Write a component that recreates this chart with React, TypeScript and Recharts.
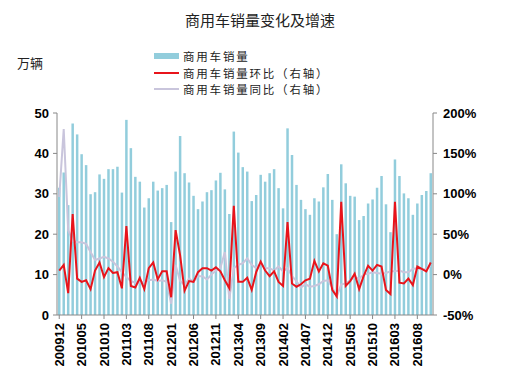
import React from "react";
import {
  ComposedChart,
  Bar,
  Line,
  XAxis,
  YAxis,
} from "recharts";

// months 200912 .. 201611
const months: string[] = [];
for (let i = 0; i < 84; i++) {
  const y = 2009 + Math.floor((11 + i) / 12);
  const m = ((11 + i) % 12) + 1;
  months.push(`${y}${m < 10 ? "0" + m : m}`);
}

// 商用车销量 (万辆)
const sales = [
  31.5, 35.3, 27.2, 47.4, 44.7, 39.8, 37.1, 29.9, 30.4, 34.8, 33.7, 36.1,
  36.1, 36.7, 30.3, 48.3, 41.3, 34.2, 33.0, 26.6, 28.9, 33.0, 30.8, 31.4,
  32.2, 23.0, 35.5, 44.3, 35.1, 32.8, 29.5, 26.2, 28.1, 30.4, 30.9, 33.3,
  35.2, 31.1, 25.0, 45.4, 40.2, 36.6, 35.5, 28.2, 29.7, 34.7, 33.0, 35.1,
  36.1, 31.4, 26.4, 46.2, 39.6, 32.2, 28.5, 26.2, 24.8, 28.9, 28.1, 31.6,
  34.9, 28.5, 20.0, 37.3, 32.6, 29.5, 29.3, 23.5, 24.5, 27.6, 28.6, 31.5,
  34.4, 27.4, 20.5, 38.5, 34.4, 30.1, 28.9, 24.8, 27.6, 29.7, 30.7, 35.1,
];

// 环比 (%)
const mom = [
  5, 12, -23, 75, -5, -9, -7, -18, 5, 15, -3, 8,
  2, 3, -17, 60, -14, -16, -4, -18, 8, 15, -6, 4,
  4, -28, 55, 24, -20, -8, -9, 3, 8, 8, 5, 9,
  4, -7, -17, 85, -9, -9, -4, -19, 3, 16, 5, -2,
  4, -9, -14, 65, -11, -15, -12, -7, -5, 17, 4, 14,
  11, -19, -27, 90, -14, -8, 1, -18, -2, 11, 5, 12,
  10, -19, -24, 90, -10, -11, -5, -13, 10, 7, 4, 15,
];

// 同比 (%)
const yoy = [
  96, 180, 55, 42, 40, 40, 38, 28, 18, 20, 22, 20,
  16, 10, 3, -3, -8, -10, -10, -9, -7, -6, -8, -7,
  -9, -36, 12, -8, -13, -5, -9, -2, -2, -6, 0, 5,
  8, 28, -30, 8, 12, 14, 20, 12, 8, 14, 8, 8,
  5, 10, 4, 8, -2, -8, -16, -12, -15, -14, -12, -8,
  -7, -16, -27, -12, -11, -7, -3, -5, 0, 1, 3, 2,
  1, 2, 4, 4, 5, 3, 3, 7, 8, 6, 7, 11,
];

const leftTicks = [0, 5, 10, 15, 20, 25, 30, 35, 40, 45, 50];
const rightTicks = [-50, 0, 50, 100, 150, 200];

const legendItems = [
  { name: "商用车销量", kind: "bar", color: "#92CDDC" },
  { name: "商用车销量环比（右轴）", kind: "line", color: "#E8141B" },
  { name: "商用车销量同比（右轴）", kind: "line", color: "#C9C5DC" },
];

const data = months.map((month, i) => ({
  month,
  sales: sales[i],
  mom: mom[i],
  yoy: yoy[i],
}));

const tickFont = {
  fontFamily: "'Liberation Sans', Arial, sans-serif",
  fontWeight: 700,
  fontSize: 13,
  fill: "#000",
};
const cjk = "'Noto Sans CJK SC', sans-serif";

const XTick = (props: any) => {
  const { x, y, payload } = props;
  return (
    <text
      x={x}
      y={y}
      transform={`rotate(-90, ${x}, ${y})`}
      textAnchor="end"
      dominantBaseline="central"
      {...tickFont}
    >
      {payload.value}
    </text>
  );
};

export default function App() {
  return (
    <div
      style={{
        position: "absolute",
        left: 0,
        top: 0,
        width: 520,
        height: 386,
        background: "#fff",
      }}
    >
      <div
        style={{
          position: "absolute",
          top: 10,
          left: 0,
          width: 520,
          textAlign: "center",
          fontFamily: cjk,
          fontSize: 15,
          lineHeight: "20px",
          color: "#222",
        }}
      >
        商用车销量变化及增速
      </div>
      <div
        style={{
          position: "absolute",
          top: 54,
          left: 17,
          fontFamily: cjk,
          fontSize: 13,
          lineHeight: "17px",
          color: "#222",
        }}
      >
        万辆
      </div>
      {legendItems.map((it, i) => (
        <div
          key={it.name}
          style={{
            position: "absolute",
            top: 48 + i * 16.7,
            left: 154,
            height: 16,
            display: "flex",
            alignItems: "center",
            fontFamily: cjk,
            fontSize: 11.5,
            letterSpacing: 1.8,
            lineHeight: "16px",
            color: "#222",
          }}
        >
          <span
            style={{
              display: "inline-block",
              width: 25,
              height: it.kind === "bar" ? 6 : 2,
              background: it.color,
              marginRight: 4,
            }}
          />
          <span>{it.name}</span>
        </div>
      ))}
      <ComposedChart
        width={520}
        height={386}
        data={data}
        margin={{ top: 113, right: 27, left: 27, bottom: 21 }}
        barCategoryGap={0}
      >
        <XAxis
          dataKey="month"
          interval={4}
          height={50}
          tick={<XTick />}
          tickSize={4}
          tickMargin={4}
          stroke="#888"
        />
        <YAxis
          yAxisId="left"
          domain={[0, 50]}
          ticks={leftTicks}
          width={30}
          tick={tickFont}
          tickSize={4}
          tickMargin={4}
          stroke="#888"
          allowDataOverflow
        />
        <YAxis
          yAxisId="right"
          orientation="right"
          domain={[-50, 200]}
          ticks={rightTicks}
          tickFormatter={(v: number) => `${v}%`}
          width={60}
          tick={{ ...tickFont, textAnchor: "start" }}
          tickSize={4}
          tickMargin={6}
          stroke="#888"
          allowDataOverflow
        />
        <Bar
          yAxisId="left"
          dataKey="sales"
          fill="#92CDDC"
          barSize={2.5}
          isAnimationActive={false}
        />
        <Line
          yAxisId="right"
          dataKey="yoy"
          stroke="#C9C5DC"
          strokeWidth={2}
          dot={false}
          type="linear"
          isAnimationActive={false}
        />
        <Line
          yAxisId="right"
          dataKey="mom"
          stroke="#E8141B"
          strokeWidth={2}
          dot={false}
          type="linear"
          isAnimationActive={false}
        />
      </ComposedChart>
    </div>
  );
}
